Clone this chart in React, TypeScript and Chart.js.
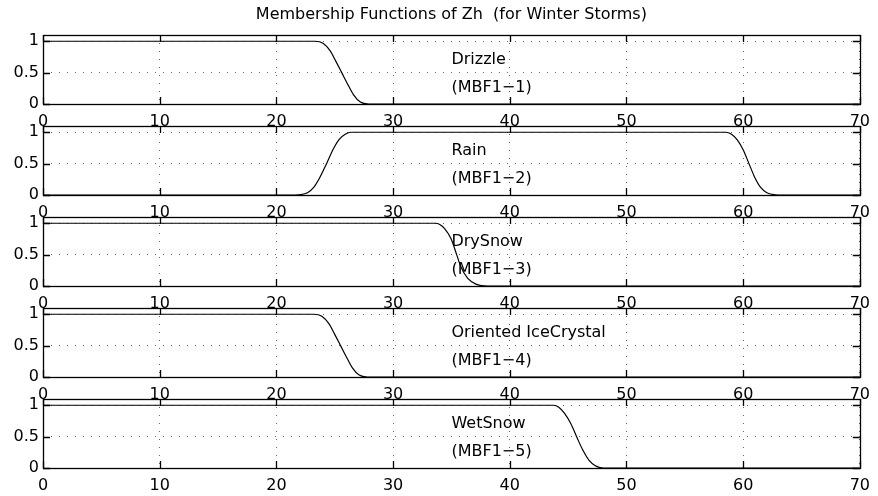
import React, { useEffect, useRef } from "react";
import { Chart, registerables } from "chart.js";

Chart.register(...registerables);

// ---- data ----
const TITLE = "Membership Functions of Zh  (for Winter Storms)";
const X_TICKS = [0, 10, 20, 30, 40, 50, 60, 70];
const Y_TICKS = [0, 0.5, 1];

const PANEL_NAMES = ["Drizzle", "Rain", "DrySnow", "Oriented IceCrystal", "WetSnow"];
const PANEL_CODES = ["(MBF1\u22121)", "(MBF1\u22122)", "(MBF1\u22123)", "(MBF1\u22124)", "(MBF1\u22125)"];

const DRIZZLE_X = [0, 23.3, 24.0, 24.6, 25.1, 25.6, 26.1, 26.6, 27.2, 27.9, 70];
const DRIZZLE_Y = [1, 1, 0.97, 0.85, 0.68, 0.5, 0.32, 0.15, 0.03, 0, 0];

const RAIN_X = [0, 21.6, 22.2, 22.7, 23.2, 23.7, 24.3, 24.9, 25.4, 25.9, 26.4, 58.5, 59.0, 59.5, 60.0, 60.5, 61.0, 61.5, 62.0, 62.5, 63.0, 70];
const RAIN_Y = [0, 0, 0.01, 0.04, 0.12, 0.27, 0.5, 0.74, 0.89, 0.97, 1, 1, 0.97, 0.88, 0.72, 0.5, 0.28, 0.12, 0.04, 0.01, 0, 0];

const DRYSNOW_X = [0, 33.65, 34.0, 34.4, 34.95, 35.45, 35.8, 36.4, 37.1, 38.1, 70];
const DRYSNOW_Y = [1, 1, 0.98, 0.92, 0.76, 0.5, 0.31, 0.12, 0.03, 0, 0];

const ICE_X = [0, 23.2, 23.9, 24.5, 25.0, 25.5, 26.0, 26.5, 27.1, 27.8, 70];
const ICE_Y = [1, 1, 0.97, 0.85, 0.68, 0.5, 0.32, 0.15, 0.03, 0, 0];

const WETSNOW_X = [0, 43.75, 44.2, 44.7, 45.25, 45.75, 46.25, 46.8, 47.3, 48.0, 70];
const WETSNOW_Y = [1, 1, 0.97, 0.87, 0.7, 0.49, 0.29, 0.12, 0.04, 0, 0];

const SERIES_X = [DRIZZLE_X, RAIN_X, DRYSNOW_X, ICE_X, WETSNOW_X];
const SERIES_Y = [DRIZZLE_Y, RAIN_Y, DRYSNOW_Y, ICE_Y, WETSNOW_Y];

const LABEL_X = 35;
const NAME_Y = 0.7;
const CODE_Y = 0.25;

// ---- layout ----
const W = 878;
const H = 496;
const PLOT_LEFT = 43;
const PLOT_RIGHT = 865;
const PLOT_TOPS = [35, 126, 217, 308, 399];
const PLOT_H = 69;
const X_AXIS_H = 30;
const TITLE_Y = 15;
const FONT = "'DejaVu Sans', 'Liberation Sans', Arial, sans-serif";

const framePlugin = {
  id: "frame",
  beforeDraw(chart: any) {
    const { ctx, chartArea } = chart;
    ctx.save();
    ctx.fillStyle = "#ffffff";
    ctx.fillRect(chartArea.left, chartArea.top, chartArea.right - chartArea.left, chartArea.bottom - chartArea.top);
    ctx.restore();
  },
  afterDraw(chart: any) {
    const { ctx, chartArea } = chart;
    const { left, right, top, bottom } = chartArea;
    const xs = chart.scales.x;
    const ys = chart.scales.y;
    const tl = 7;
    ctx.save();
    ctx.strokeStyle = "#000";
    ctx.lineWidth = 1.3;
    ctx.setLineDash([]);
    ctx.beginPath();
    xs.ticks.forEach((t: any) => {
      const px = Math.round(xs.getPixelForValue(t.value)) + 0.5;
      ctx.moveTo(px, bottom);
      ctx.lineTo(px, bottom - tl);
      ctx.moveTo(px, top);
      ctx.lineTo(px, top + tl);
    });
    ys.ticks.forEach((t: any) => {
      const py = Math.round(ys.getPixelForValue(t.value)) + 0.5;
      ctx.moveTo(left, py);
      ctx.lineTo(left + tl, py);
      ctx.moveTo(right, py);
      ctx.lineTo(right - tl, py);
    });
    ctx.stroke();
    ctx.strokeRect(Math.round(left) + 0.5, Math.round(top) + 0.5, Math.round(right - left), Math.round(bottom - top));
    ctx.restore();
  },
};

const labelPlugin = {
  id: "panelLabels",
  afterDatasetsDraw(chart: any, _args: any, opts: any) {
    const { ctx, chartArea } = chart;
    const xs = chart.scales.x;
    const ys = chart.scales.y;
    ctx.save();
    ctx.fillStyle = "#000";
    ctx.font = `16px ${FONT}`;
    ctx.textAlign = "left";
    ctx.textBaseline = "middle";
    ctx.fillText(opts.name, xs.getPixelForValue(LABEL_X), ys.getPixelForValue(NAME_Y));
    ctx.fillText(opts.code, xs.getPixelForValue(LABEL_X), ys.getPixelForValue(CODE_Y));
    if (opts.title) {
      ctx.textAlign = "center";
      ctx.fillText(opts.title, (chartArea.left + chartArea.right) / 2, TITLE_Y);
    }
    ctx.restore();
  },
};

function Panel({ index }: { index: number }) {
  const ref = useRef<HTMLCanvasElement | null>(null);
  useEffect(() => {
    if (!ref.current) return;
    const top = PLOT_TOPS[index];
    const bottom = top + PLOT_H;
    const data = SERIES_X[index].map((x, i) => ({ x, y: SERIES_Y[index][i] }));
    const chart = new Chart(ref.current, {
      type: "line",
      data: {
        datasets: [
          {
            data,
            borderColor: "#000",
            borderWidth: 1.2,
            pointRadius: 0,
            cubicInterpolationMode: "monotone",
            fill: false,
          },
        ],
      },
      options: {
        responsive: false,
        animation: false,
        devicePixelRatio: 1,
        layout: {
          padding: {
            left: 0,
            right: W - PLOT_RIGHT,
            top: top,
            bottom: H - bottom - X_AXIS_H,
          },
        },
        plugins: {
          legend: { display: false },
          tooltip: { enabled: false },
          title: { display: false },
          panelLabels: {
            name: PANEL_NAMES[index],
            code: PANEL_CODES[index],
            title: index === 0 ? TITLE : "",
          },
        } as any,
        scales: {
          x: {
            type: "linear",
            min: 0,
            max: 70,
            afterBuildTicks: (axis: any) => {
              axis.ticks = X_TICKS.map((v) => ({ value: v }));
            },
            afterFit: (axis: any) => {
              axis.height = X_AXIS_H;
            },
            ticks: {
              color: "#000",
              font: { family: FONT, size: 16 },
              padding: 8,
              maxRotation: 0,
              autoSkip: false,
              callback: (v: any) => String(v),
            },
            grid: {
              color: "#666",
              lineWidth: 1,
              drawTicks: false,
            },
            border: { display: false, dash: [1, 7] },
          },
          y: {
            type: "linear",
            min: 0,
            max: 1.1,
            afterBuildTicks: (axis: any) => {
              axis.ticks = Y_TICKS.map((v) => ({ value: v }));
            },
            afterFit: (axis: any) => {
              axis.width = PLOT_LEFT;
            },
            ticks: {
              color: "#000",
              font: { family: FONT, size: 16 },
              padding: 4,
              callback: (v: any) => String(v),
            },
            grid: {
              color: "#666",
              lineWidth: 1,
              drawTicks: false,
            },
            border: { display: false, dash: [1, 7] },
          },
        },
      },
      plugins: [framePlugin, labelPlugin],
    } as any);
    return () => chart.destroy();
  }, [index]);
  return (
    <canvas
      ref={ref}
      width={W}
      height={H}
      style={{ position: "absolute", left: 0, top: 0, width: W, height: H }}
    />
  );
}

export default function App() {
  return (
    <div style={{ position: "absolute", left: 0, top: 0, width: W, height: H, background: "#fff", overflow: "hidden" }}>
      {PANEL_NAMES.map((_, i) => (
        <Panel key={i} index={i} />
      ))}
    </div>
  );
}
